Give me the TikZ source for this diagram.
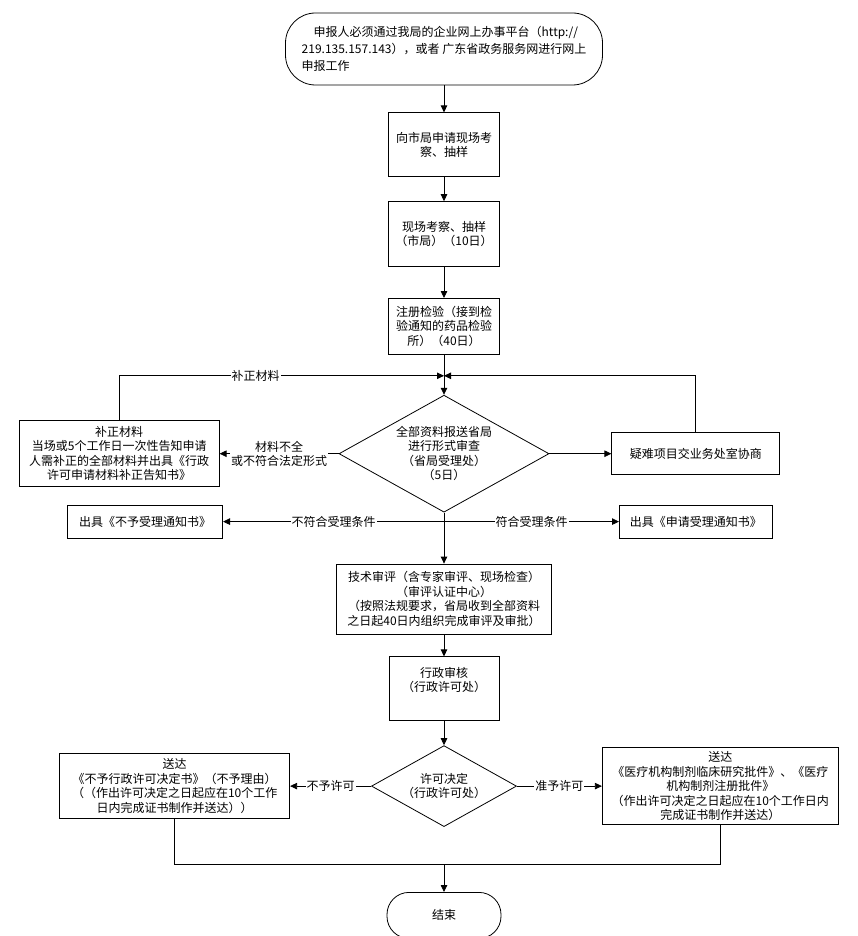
\documentclass[tikz,border=0pt]{standalone}
\usepackage{fontspec}
\setmainfont{Noto Sans CJK SC}
\usetikzlibrary{shapes.geometric, arrows.meta, positioning}

\begin{document}
\begin{tikzpicture}[
    x=1pt, y=1pt, line width=0.8pt,
    font=\fontsize{12}{14.5}\selectfont,
    box/.style={draw, align=center, inner sep=2pt},
    terminal/.style={draw, align=center, rounded corners=22pt},
    decision/.style={draw, diamond, align=center, inner sep=0pt},
    arrow/.style={-{Triangle[length=7pt, width=6.5pt]}},
    tag/.style={fill=white, inner sep=1pt, align=center}
]

\useasboundingbox (0,0) rectangle (857,-936);

% Start
\node[terminal, rounded corners=30pt, minimum width=317pt, minimum height=72pt,
      align=left, font=\fontsize{12}{17}\selectfont] (start) at (444,-49) {%
\hspace*{1em}申报人必须通过我局的企业网上办事平台（http://\\
219.135.157.143），或者 广东省政务服务网进行网上\\
申报工作};

% Main column
\node[box, minimum width=111pt, minimum height=64pt, below=27pt of start] (apply) {向市局申请现场考\\察、抽样};
\node[box, minimum width=111pt, minimum height=65pt, below=24pt of apply] (survey) {现场考察、抽样\\（市局）（10日）};
\node[box, minimum width=111pt, minimum height=56pt, below=31pt of survey] (inspect) {注册检验（接到检\\验通知的药品检验\\所）（40日）};
\coordinate[below=21pt of inspect] (merge);

\node[decision, aspect=1.8, minimum width=210pt, minimum height=117pt, below=40pt of inspect] (check) {%
全部资料报送省局\\
进行形式审查\\
（省局受理处）\\
（5日）};

% Side boxes of the formal check
\node[box, minimum width=200pt, minimum height=66pt, left=119pt of check] (fix) {%
补正材料\\
当场或5个工作日一次性告知申请\\
人需补正的全部材料并出具《行政\\
许可申请材料补正告知书》};
\node[box, minimum width=168pt, minimum height=42pt, right=62pt of check] (hard) {疑难项目交业务处室协商};

\coordinate[below=9pt of check] (branch);
\node[box, minimum width=155pt, minimum height=33pt, left=221pt of branch] (reject) {出具《不予受理通知书》};
\node[box, minimum width=153pt, minimum height=33pt, right=175pt of branch] (accept) {出具《申请受理通知书》};

\node[box, minimum width=215pt, minimum height=70pt, below=51pt of check] (review) {%
技术审评（含专家审评、现场检查）\\
（审评认证中心）\\
（按照法规要求，省局收到全部资料\\
之日起40日内组织完成审评及审批）};
\node[box, minimum width=110pt, minimum height=64pt, below=22pt of review] (approve) {行政审核\\（行政许可处）\\\strut};

\node[decision, aspect=1.79, minimum width=145pt, minimum height=81pt, below=24pt of approve] (permit) {许可决定\\（行政许可处）};

% Results
\node[box, minimum width=230pt, minimum height=65pt, left=81pt of permit] (deny) {%
送达\\
《不予行政许可决定书》（不予理由）\\
（（作出许可决定之日起应在10个工作\\
日内完成证书制作并送达））};
\node[box, minimum width=236pt, minimum height=77pt, right=85pt of permit] (grant) {%
送达\\
《医疗机构制剂临床研究批件》、《医疗\\
机构制剂注册批件》\\
（作出许可决定之日起应在10个工作日内\\
完成证书制作并送达）};

\coordinate[below=37pt of permit] (join);
\node[terminal, minimum width=114pt, minimum height=46pt, below=65pt of permit] (finish) {结束};

% Arrows
\draw[arrow] (start) -- (apply);
\draw[arrow] (apply) -- (survey);
\draw[arrow] (survey) -- (inspect);
\draw[arrow] (inspect) -- (check);
\draw[arrow] (fix.north) |- node[tag, pos=0.71] {补正材料} (merge);
\draw[arrow] (hard.north) |- (merge);
\draw[arrow] (check) -- node[tag] {材料不全\\或不符合法定形式} (fix);
\draw[arrow] (check) -- (hard);
\draw[arrow] (branch) -- node[tag] {不符合受理条件} (reject);
\draw[arrow] (branch) -- node[tag] {符合受理条件} (accept);
\draw[arrow] (check) -- (review);
\draw[arrow] (review) -- (approve);
\draw[arrow] (approve) -- (permit);
\draw[arrow] (permit) -- node[tag] {不予许可} (deny);
\draw[arrow] (permit) -- node[tag] {准予许可} (grant);
\draw (deny.south) |- (join) -| (grant.south);
\draw[arrow] (join) -- (finish);

\end{tikzpicture}
\end{document}
